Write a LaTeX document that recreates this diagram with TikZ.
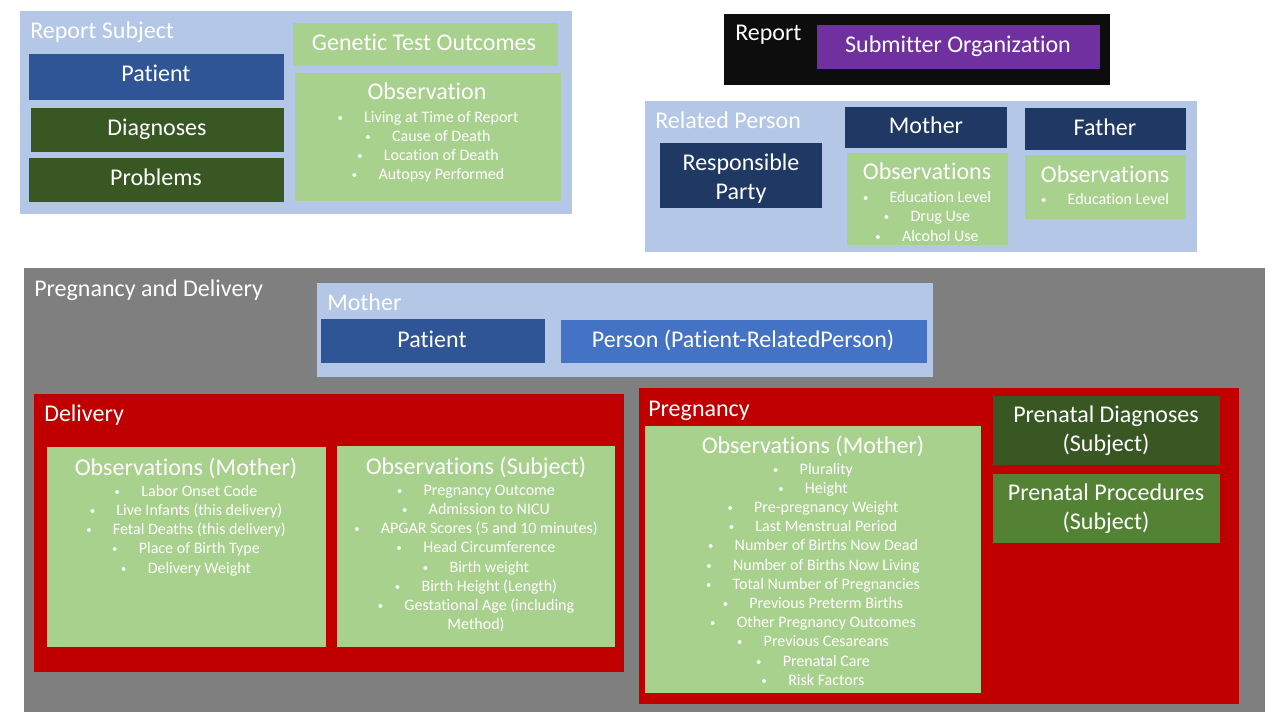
\documentclass[tikz,border=0pt]{standalone}
\usepackage{fontspec}
\setmainfont{Carlito}[Ligatures=CommonOff]
\usetikzlibrary{fit}
\definecolor{lblue}{HTML}{B4C7E7}
\definecolor{lgreen}{HTML}{A9D18E}
\definecolor{pblue}{HTML}{2F5597}
\definecolor{mblue}{HTML}{4472C4}
\definecolor{dgreen}{HTML}{385723}
\definecolor{mgreen}{HTML}{548235}
\definecolor{navy}{HTML}{203864}
\definecolor{purp}{HTML}{7030A0}
\definecolor{gry}{HTML}{7F7F7F}
\definecolor{dred}{HTML}{C00000}
\definecolor{blk}{HTML}{0D0D0D}
\newcommand\bl[1]{\strut\raisebox{0.8pt}{\fontsize{8}{8}\selectfont\textbullet}\hspace{16pt}#1}
\begin{document}
\begin{tikzpicture}[x=0.75pt,y=-0.75pt,
  box/.style={inner sep=0pt, outer sep=0pt, draw=none},
  t18/.style={text=white, inner sep=0pt, font=\fontsize{18}{21.6}\selectfont},
  t18m/.style={t18, align=center, anchor=north},
  blist/.style={text=white, inner sep=0pt, align=center, anchor=north, font=\fontsize{12}{14.4}\selectfont}]
\useasboundingbox (0,0) rectangle (1280,720);
\fill[white] (0,0) rectangle (1280,720);

% ---------- Report Subject ----------
\node[box, fill=lblue, fit={(20,11) (572,214)}] (rs) {};
\node[t18, anchor=base west] (rslab) at (30,39) {Report Subject};
\node[box, fill=pblue, fit={(29,54) (284,100)}] (rspat) {};
\node[t18, anchor=base] (rspatt) at (156,82) {Patient};
\node[box, fill=dgreen, fit={(31,108) (284,152)}] (rsdia) {};
\node[t18, anchor=base] (rsdiat) at (157,136) {Diagnoses};
\node[box, fill=dgreen, fit={(29,158) (284,202)}] (rsprob) {};
\node[t18, anchor=base] (rsprobt) at (156,186) {Problems};
\node[box, fill=lgreen, fit={(293,23) (558,66)}] (gto) {};
\node[t18, anchor=base] (gtot) at (424,51) {Genetic Test Outcomes};
\node[box, fill=lgreen, fit={(295,73) (561,201)}] (rsobs) {};
\node[t18, anchor=base] (rsobst) at (427,100) {Observation};
\node[blist] (rsobsl) at (428,108.6) {\bl{Living at Time of Report}\\\bl{Cause of Death}\\\bl{Location of Death}\\\bl{Autopsy Performed}};

% ---------- Report ----------
\node[box, fill=blk, fit={(724,14) (1110,85)}] (rep) {};
\node[t18, anchor=base west] (replab) at (735,41) {Report};
\node[box, fill=purp, fit={(817,25) (1100,69)}] (sub) {};
\node[t18, anchor=base] (subt) at (958,53) {Submitter Organization};

% ---------- Related Person ----------
\node[box, fill=lblue, fit={(645,101) (1197,252)}] (rp) {};
\node[t18, anchor=base west] (rplab) at (655,129) {Related Person};
\node[box, fill=navy, fit={(660,143) (822,208)}] (resp) {};
\node[t18m] (respt) at (741,150) {\strut Responsible\\\strut Party};
\node[box, fill=navy, fit={(845,107) (1007,148)}] (rpmo) {};
\node[t18, anchor=base] (rpmot) at (926,134) {Mother};
\node[box, fill=lgreen, fit={(847,153) (1008,245)}] (rpmoobs) {};
\node[t18, anchor=base] (rpmoobst) at (927,180) {Observations};
\node[blist] (rpmoobsl) at (927,189) {\bl{Education Level}\\\bl{Drug Use}\\\bl{Alcohol Use}};
\node[box, fill=navy, fit={(1025,108) (1186,150)}] (rpfa) {};
\node[t18, anchor=base] (rpfat) at (1105,136) {Father};
\node[box, fill=lgreen, fit={(1025,155) (1186,219)}] (rpfaobs) {};
\node[t18, anchor=base] (rpfaobst) at (1105,183) {Observations};
\node[blist] (rpfaobsl) at (1105,191) {\bl{Education Level}};

% ---------- Pregnancy and Delivery ----------
\node[box, fill=gry, fit={(24,268) (1265,712)}] (pd) {};
\node[t18, anchor=base west] (pdlab) at (34,296) {Pregnancy and Delivery};
\node[box, fill=lblue, fit={(317,283) (933,377)}] (pdmo) {};
\node[t18, anchor=base west] (pdmolab) at (327,310) {Mother};
\node[box, fill=pblue, fit={(321,319) (545,363)}] (pdpat) {};
\node[t18, anchor=base] (pdpatt) at (432,347) {Patient};
\node[box, fill=mblue, fit={(561,320) (927,363)}] (pdper) {};
\node[t18, anchor=base] (pdpert) at (743,347) {Person (Patient-RelatedPerson)};

% Delivery
\node[box, fill=dred, fit={(34,394) (624,672)}] (del) {};
\node[t18, anchor=base west] (dellab) at (44,421) {Delivery};
\node[box, fill=lgreen, fit={(47,447) (326,647)}] (delmo) {};
\node[t18, anchor=base] (delmot) at (186,475) {Observations (Mother)};
\node[blist] (delmol) at (186,482.6) {\bl{Labor Onset Code}\\\bl{Live Infants (this delivery)}\\\bl{Fetal Deaths (this delivery)}\\\bl{Place of Birth Type}\\\bl{Delivery Weight}};
\node[box, fill=lgreen, fit={(337,446) (615,647)}] (delsu) {};
\node[t18, anchor=base] (delsut) at (476,474) {Observations (Subject)};
\node[blist] (delsul) at (476,481.6) {\bl{Pregnancy Outcome}\\\bl{Admission to NICU}\\\bl{APGAR Scores (5 and 10 minutes)}\\\bl{Head Circumference}\\\bl{Birth weight}\\\bl{Birth Height (Length)}\\\bl{Gestational Age (including}\\\strut Method)};

% Pregnancy
\node[box, fill=dred, fit={(639,388) (1239,704)}] (preg) {};
\node[t18, anchor=base west] (preglab) at (648,416) {Pregnancy};
\node[box, fill=lgreen, fit={(645,426) (981,693)}] (pregmo) {};
\node[t18, anchor=base] (pregmot) at (813,453) {Observations (Mother)};
\node[blist] (pregmol) at (813,460.4) {\bl{Plurality}\\\bl{Height}\\\bl{Pre-pregnancy Weight}\\\bl{Last Menstrual Period}\\\bl{Number of Births Now Dead}\\\bl{Number of Births Now Living}\\\bl{Total Number of Pregnancies}\\\bl{Previous Preterm Births}\\\bl{Other Pregnancy Outcomes}\\\bl{Previous Cesareans}\\\bl{Prenatal Care}\\\bl{Risk Factors}};
\node[box, fill=dgreen, fit={(993,396) (1220,465)}] (pdia) {};
\node[t18m] (pdiat) at (1106,402.5) {\strut Prenatal Diagnoses\\\strut (Subject)};
\node[box, fill=mgreen, fit={(993,474) (1220,543)}] (ppro) {};
\node[t18m] (pprot) at (1106,480.5) {\strut Prenatal Procedures\\\strut (Subject)};
\end{tikzpicture}
\end{document}
